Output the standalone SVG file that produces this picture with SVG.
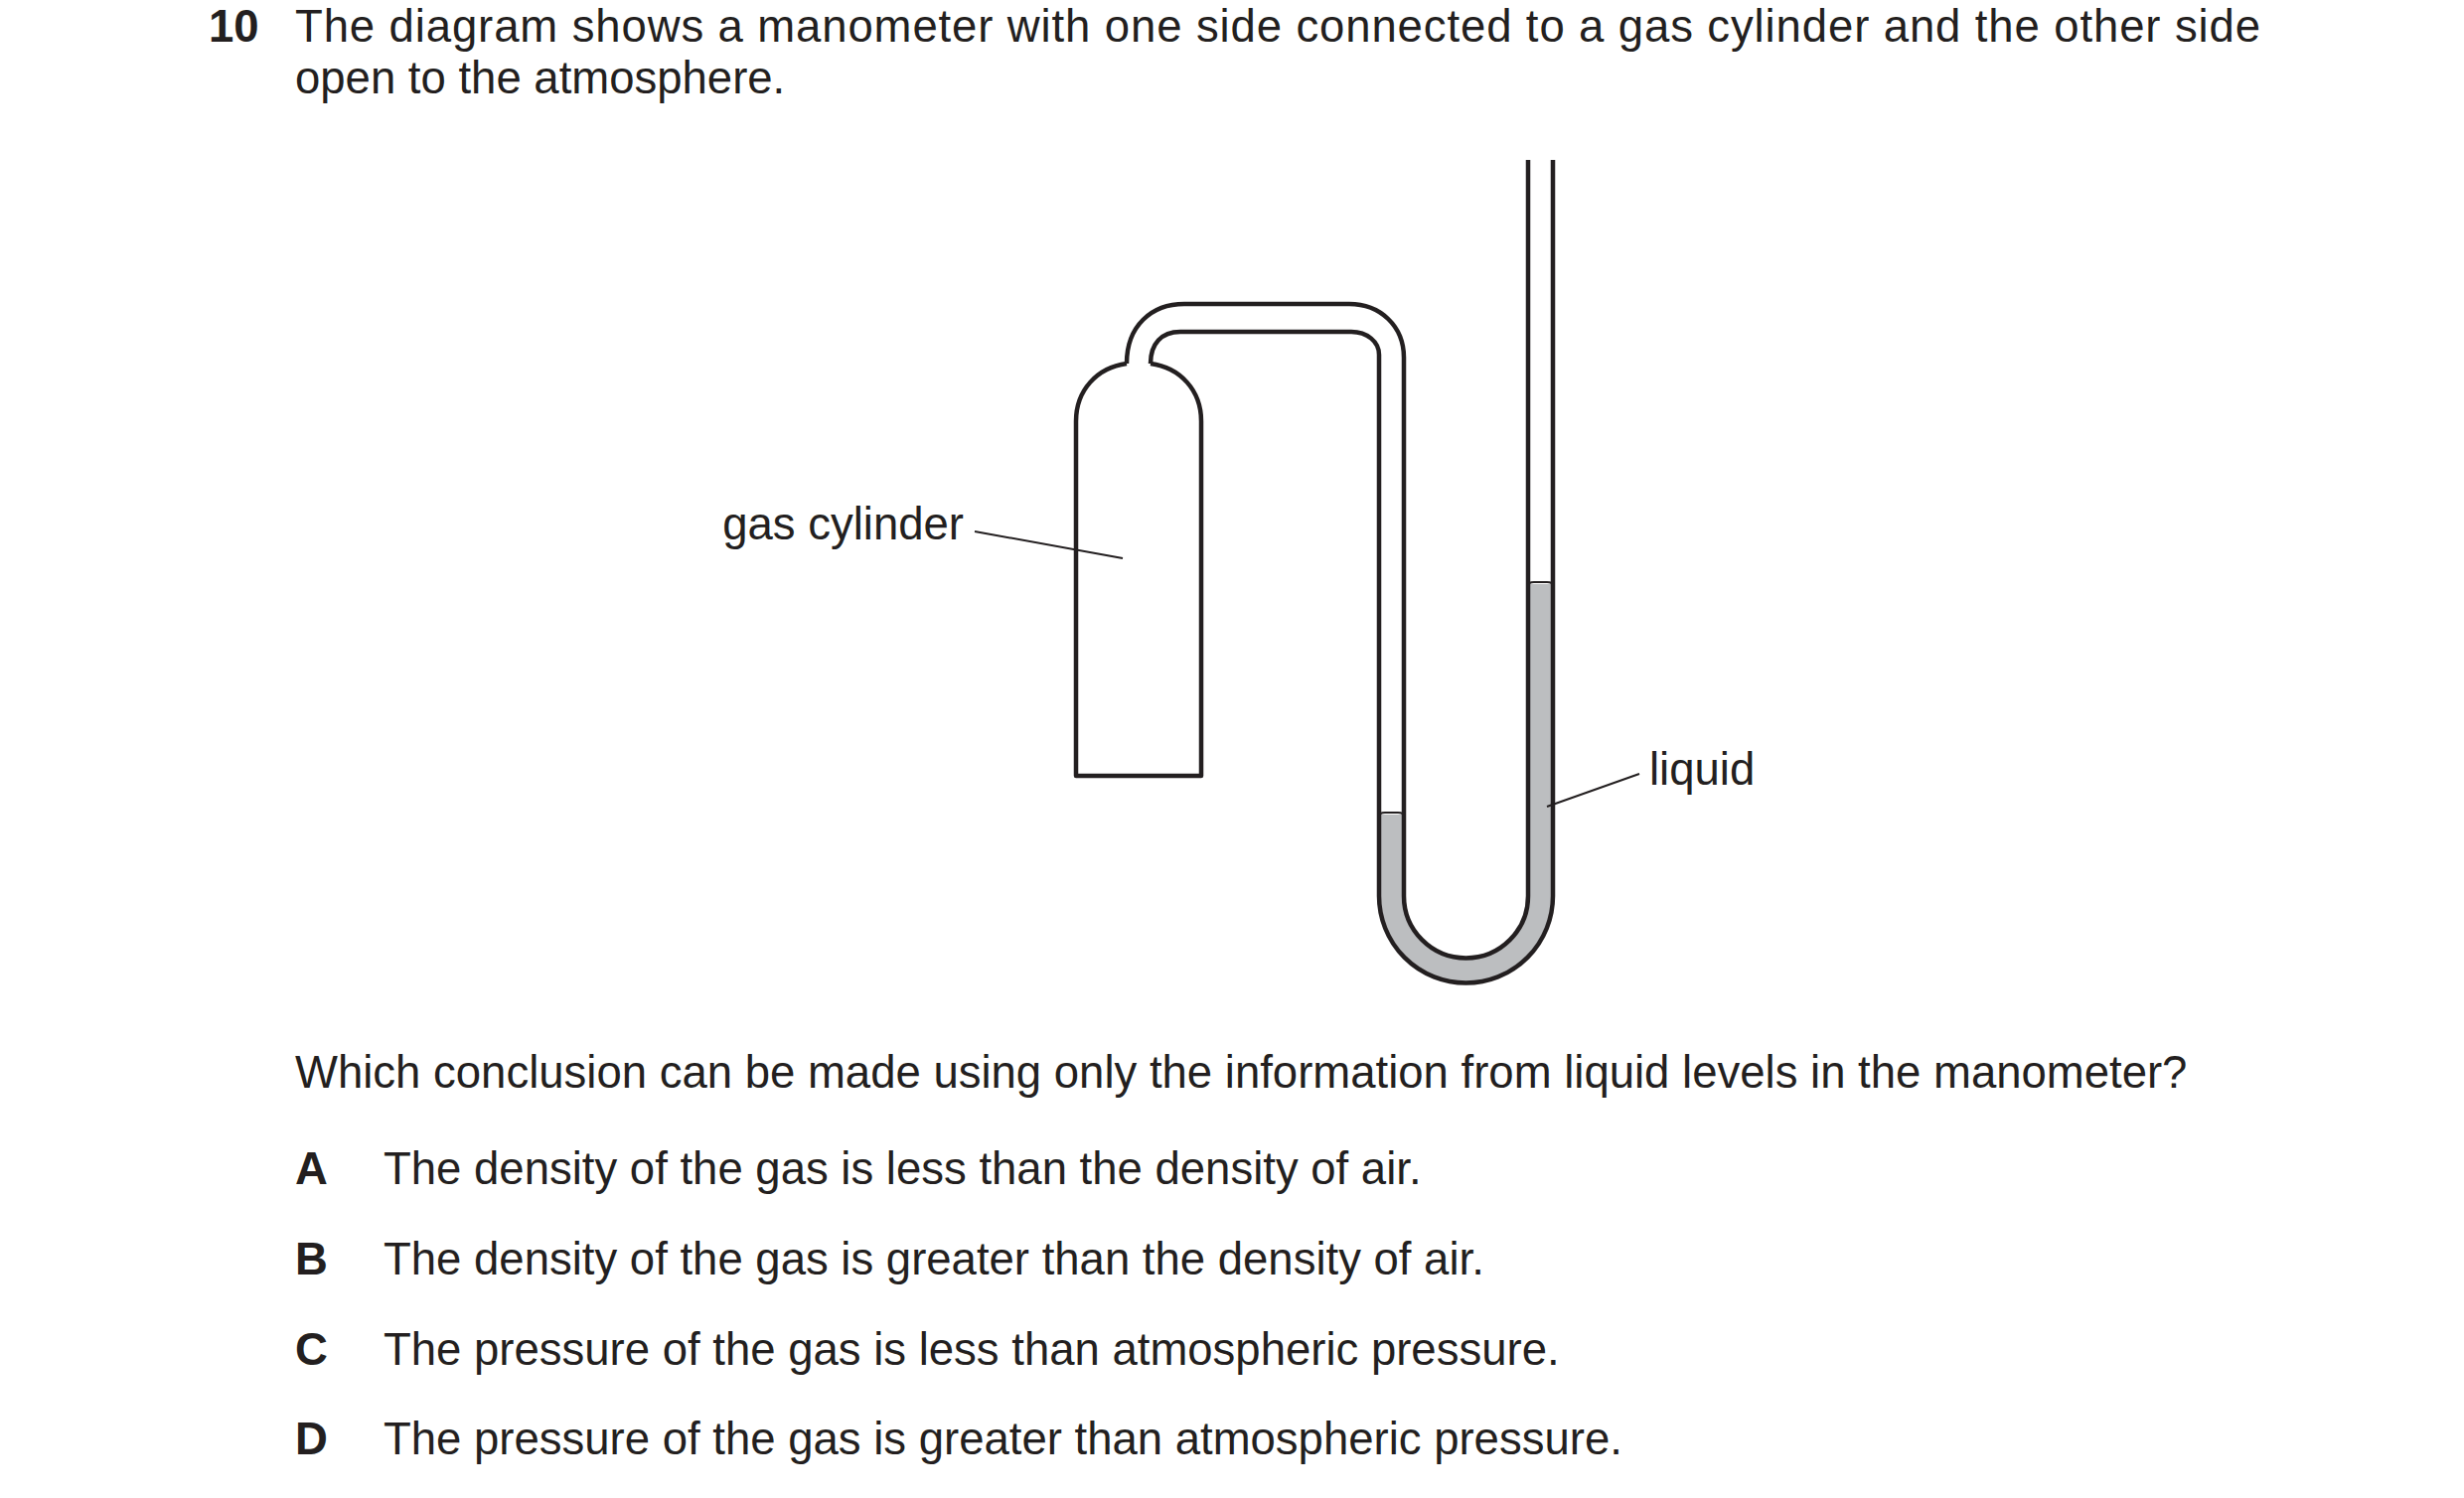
<svg xmlns="http://www.w3.org/2000/svg" width="2480" height="1508" viewBox="0 0 2480 1508">
<style>
text{font-family:"Liberation Sans",Arial,sans-serif;font-size:45.5px;fill:#231f20}
.b{font-weight:bold}
.w{fill:none;stroke:#231f20;stroke-width:4.5;stroke-linejoin:round}
.l{fill:none;stroke:#231f20;stroke-width:2}
</style>
<rect width="2480" height="1508" fill="#fff"/>
<g id="heading">
<text class="b" x="210" y="42">10</text>
<text x="297" y="42" textLength="1978" lengthAdjust="spacing">The diagram shows a manometer with one side connected to a gas cylinder and the other side</text>
<text x="297" y="94">open to the atmosphere.</text>
</g>
<g transform="translate(-6,-2)">
<g id="liquid">
<path d="M1394,822 L1394,904 A87.5,87.5 0 0 0 1569,904 L1569,590 L1544,590 L1544,904 A62.5,62.5 0 0 1 1419,904 L1419,822 Z" fill="#bcbec0"/>
<path class="l" d="M1394,824 Q1394,820 1400,820 L1413,820 Q1419,820 1419,824"/>
<path class="l" d="M1544,592 Q1544,588 1550,588 L1563,588 Q1569,588 1569,592"/>
</g>
<g id="cylinder">
<path class="w" d="M1140,368 C1110,372 1089,395 1089,426 L1089,783 L1215,783 L1215,426 C1215,395 1194,372 1164,368"/>
</g>
<g id="manometer">
<path class="w" d="M1140,368 C1140,330 1165,308 1198,308 L1364,308 C1395,308 1419,330 1419,362 L1419,904 A62.5,62.5 0 0 0 1544,904 L1544,163"/>
<path class="w" d="M1164,368 C1164,348 1175,336 1194,336 L1366,336 C1382,336 1394,346 1394,359 L1394,904 A87.5,87.5 0 0 0 1569,904 L1569,163"/>
</g>
</g>
<g id="connectors">
<line class="l" x1="981" y1="535" x2="1130" y2="562"/>
<line class="l" x1="1557" y1="812" x2="1650" y2="779"/>
</g>
<g id="labels">
<text x="970" y="543" text-anchor="end">gas cylinder</text>
<text x="1660" y="790">liquid</text>
</g>
<g id="question">
<text x="297" y="1095">Which conclusion can be made using only the information from liquid levels in the manometer?</text>
<text class="b" x="297" y="1192">A</text><text x="386" y="1192">The density of the gas is less than the density of air.</text>
<text class="b" x="297" y="1283">B</text><text x="386" y="1283">The density of the gas is greater than the density of air.</text>
<text class="b" x="297" y="1374">C</text><text x="386" y="1374">The pressure of the gas is less than atmospheric pressure.</text>
<text class="b" x="297" y="1464">D</text><text x="386" y="1464">The pressure of the gas is greater than atmospheric pressure.</text>
</g>
</svg>
